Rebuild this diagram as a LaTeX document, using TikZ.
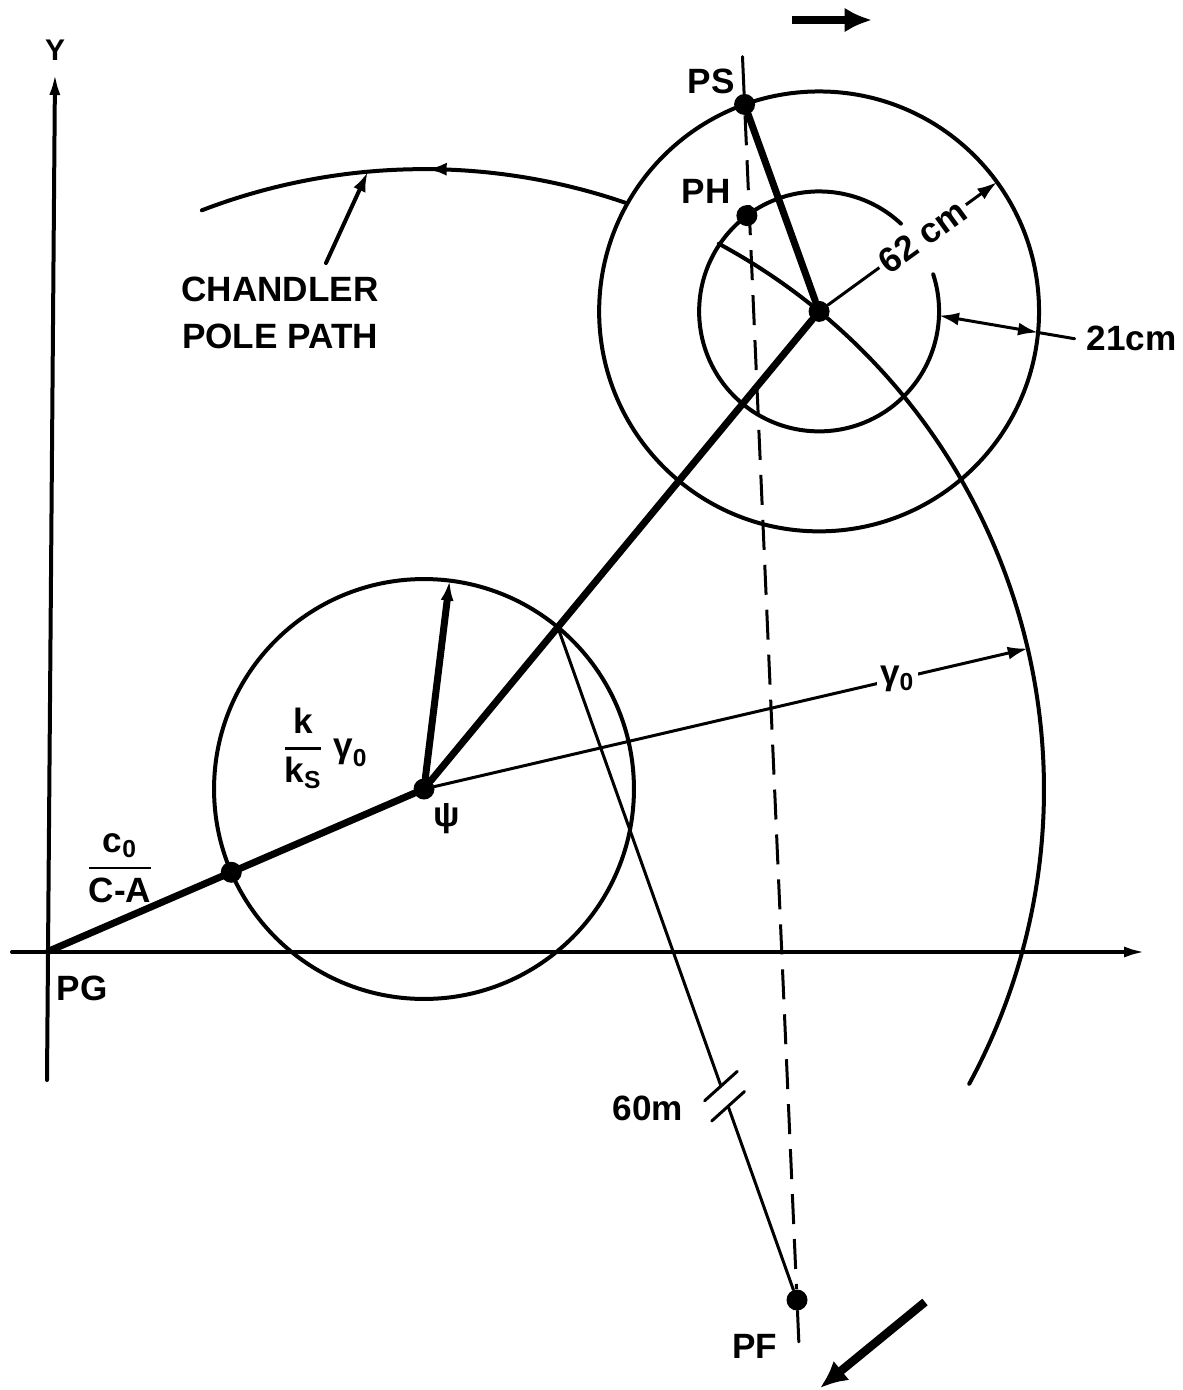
\documentclass[tikz,border=0pt]{standalone}
\usepackage{amsmath}
\usepackage{fontspec}
\setmainfont{Liberation Sans}
\usetikzlibrary{arrows.meta,calc,decorations.markings}
\tikzset{
  cp line/.style={line width=0.08cm, line cap=round},
  cp thin/.style={line width=0.06cm, line cap=round},
  cp thick/.style={line width=0.14cm, line cap=round},
  cp dashed/.style={line width=0.06cm, dash pattern=on 0.6cm off 0.3cm},
  cp dot/.style={circle, fill=black, inner sep=0pt, minimum size=0.42cm},
  cp arrow/.style={-{Latex[length=0.4cm,width=0.26cm]}},
  cp axis/.style={cp line, -{Latex[length=0.44cm,width=0.22cm]}},
  cp move/.style={line width=0.17cm, -{Latex[length=0.55cm,width=0.5cm]}},
  cp label/.style={font=\fontsize{20}{27}\selectfont\bfseries, inner sep=2pt},
}

\begin{document}
\begin{tikzpicture}[x=0.02cm, y=0.02cm]
  \useasboundingbox (0,0) rectangle (1183,-1390);

  % poles
  \coordinate (pg) at (49,-951);
  \node[cp dot] (psi) at (424,-789) {};
  \node[cp dot] (cnt) at ($(psi)+(50.4:12.4cm)$) {};
  \node[cp dot] (ps) at ($(cnt)+(109.8:4.4cm)$) {};
  \node[cp dot] (ph) at ($(cnt)+(127:2.4cm)$) {};
  \node[cp dot] (pf) at (797,-1300) {};
  \node[cp dot] (ck) at ($(psi)!4.2cm!(pg)$) {};
  \coordinate (sx) at ($(psi)!4.2cm!(cnt)$);

  % axes
  \draw[cp axis] (47,-1080) -- (55,-73) node[cp label, above=4pt, font=\fontsize{17}{20}\selectfont\bfseries] (ylab) {Y};
  \draw[cp axis] (12,-952) -- (1146,-952);
  \node[cp label] (pglab) at (82,-988) {PG};

  % circles
  \draw[cp line] (psi) circle[radius=4.2cm];
  \draw[cp line] (cnt) circle[radius=4.4cm];
  \draw[cp line] ($(cnt)+(47:2.4cm)$) arc[start angle=47, end angle=378, radius=2.4cm];

  % chandler pole path
  \draw[cp line, postaction={decorate},
    decoration={markings, mark=at position 0.47 with {\arrow{Latex[length=0.4cm,width=0.26cm]}}}]
    ($(psi)+(70.9:12.4cm)$) arc[start angle=70.9, end angle=111, radius=12.4cm];
  \draw[cp line] ($(psi)+(61.6:12.4cm)$) arc[start angle=61.6, end angle=-28.4, radius=12.4cm];
  \node[cp label, align=center] (chl) at (280,-313) {CHANDLER\\POLE PATH};
  \draw[cp line, cp arrow] ([shift={(46,10)}]chl.north) -- ($(psi)+(95.2:12.4cm)$);

  % radii
  \draw[cp thick] (pg) -- (psi);
  \draw[cp thick] (psi) -- (cnt);
  \draw[cp thick] (ps) -- (cnt);
  \draw[cp thick, cp arrow] (psi) -- ($(psi)+(83:4.2cm)$);
  \draw[cp thin, cp arrow] (psi) -- ($(psi)+(13.1:12.4cm)$)
    node[cp label, pos=0.78, fill=white] (glab) {γ\textsubscript{0}};
  \draw[cp thin, cp arrow] (cnt) -- ($(cnt)+(36:4.4cm)$)
    node[cp label, pos=0.56, sloped, fill=white] (cmlab) {62 cm};

  % 21 cm
  \coordinate (d1) at ($(cnt)+(-2:2.4cm)$);
  \coordinate (d2) at ($(cnt)+(-5.5:4.4cm)$);
  \draw[cp thin, {Latex[length=0.4cm,width=0.26cm]}-{Latex[length=0.4cm,width=0.26cm]}] (d1) -- (d2);
  \draw[cp thin] (d2) -- ($(d1)!1.37!(d2)$) node[cp label, right=4pt] (dlab) {21cm};

  % pole positions
  \draw[cp thin] (ps) -- ($(ps)!-0.04!(pf)$);
  \draw[cp dashed] (ps) -- (pf);
  \draw[cp thin] (pf) -- ($(pf)!-0.035!(ps)$);
  \draw[cp thin] (sx) -- ($(sx)!0.682!(pf)$) coordinate (b1);
  \draw[cp thin] ($(sx)!0.712!(pf)$) coordinate (b2) -- (pf);
  \draw[cp thin] ($(b1)+(222:0.44cm)$) -- ($(b1)+(42:0.44cm)$);
  \draw[cp thin] ($(b2)+(222:0.44cm)$) -- ($(b2)+(42:0.44cm)$);

  % labels
  \node[cp label] (pslab) at (711,-81) {PS};
  \node[cp label] (phlab) at (706,-191) {PH};
  \node[cp label] (pflab) at (755,-1346) {PF};
  \node[cp label] (mlab) at (648,-1108) {60m};
  \node[cp label] (psilab) at (447,-819) {ψ};
  \node[cp label] (kfrac) at (325,-748) {$\genfrac{}{}{1.4pt}{0}{\text{k}}{\text{k}_{\text{S}}}\ \text{γ}_{\text{0}}$};
  \node[cp label] (cfrac) at (120,-868) {$\genfrac{}{}{1.4pt}{0}{\text{c}_{\text{0}}}{\text{C-A}}$};

  % motion
  \draw[cp move] (792,-20) -- (872,-20);
  \draw[cp move] (925,-1302) -- (820,-1388);
\end{tikzpicture}
\end{document}
